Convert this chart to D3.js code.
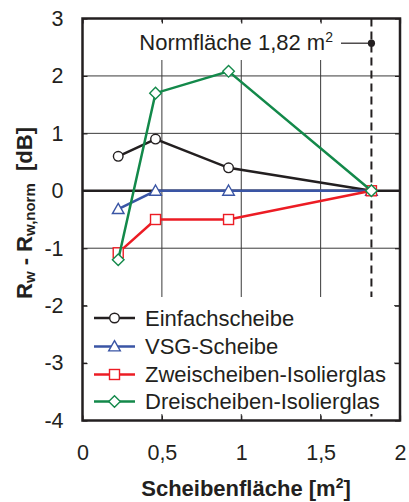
<!DOCTYPE html>
<html>
<head>
<meta charset="utf-8">
<script src="https://cdn.jsdelivr.net/npm/d3@7"></script>
<style>
  body { margin: 0; background: #fff; }
  text { font-family: "Liberation Sans", Arial, sans-serif; fill: #231f20; white-space: pre; }
</style>
</head>
<body>
<div id="chart"></div>
<script>
// Scheibenfläche in m2
const areas = [0.225, 0.46, 0.92, 1.82];
// Rw - Rw,norm in dB
const einfach = [0.6, 0.9, 0.4, 0];
const vsg = [-0.32, 0, 0, 0];
const zwei = [-1.08, -0.5, -0.5, 0];
const drei = [-1.2, 1.7, 2.08, 0];
const seriesNames = ["Einfachscheibe", "VSG-Scheibe", "Zweischeiben-Isolierglas", "Dreischeiben-Isolierglas"];
const xTicks = [0, 0.5, 1, 1.5, 2];
const yTicks = [-4, -3, -2, -1, 0, 1, 2, 3];
const normArea = 1.82;
const normLabelY = 2.57;

const svg = d3.select("#chart").append("svg").attr("width", 409).attr("height", 502);

const x = d3.scaleLinear().domain([0, 2]).range([82.5, 400]);
const y = d3.scaleLinear().domain([-4, 3]).range([420.5, 18.5]);

const colors = ["#231f20", "#3a55a5", "#ec1c24", "#13894a"];
const shapes = [
    g => g.append("circle").attr("r", 4.8),
    g => g.append("path").attr("d", "M0,-5.8L5.8,4.4L-5.8,4.4Z"),
    g => g.append("rect").attr("x", -5).attr("y", -5).attr("width", 10).attr("height", 10),
    g => g.append("path").attr("d", "M0,-5.8L5.8,0L0,5.8L-5.8,0Z")
];
const data = [einfach, vsg, zwei, drei];

// grid
svg.append("g").selectAll("line").data([0.5, 1, 1.5]).join("line")
    .attr("x1", d => x(d)).attr("x2", d => x(d))
    .attr("y1", y(3)).attr("y2", y(-4))
    .attr("stroke", "#3a3a3a").attr("stroke-width", 1);
svg.append("g").selectAll("line").data([-3, -2, -1, 1, 2]).join("line")
    .attr("x1", x(0)).attr("x2", x(2))
    .attr("y1", d => y(d)).attr("y2", d => y(d))
    .attr("stroke", "#3a3a3a").attr("stroke-width", 1);

// Normfläche dashed line
svg.append("line")
    .attr("x1", x(normArea)).attr("x2", x(normArea))
    .attr("y1", y(3)).attr("y2", y(-4))
    .attr("stroke", "#231f20").attr("stroke-width", 2)
    .attr("stroke-dasharray", "8,5");

// white boxes behind label and legend
svg.append("rect").attr("x", 135).attr("y", 22).attr("width", 202).attr("height", 38).attr("fill", "#fff");
svg.append("rect").attr("x", 87).attr("y", 297).attr("width", 307).attr("height", 117).attr("fill", "#fff");

// zero line
svg.append("line")
    .attr("x1", x(0)).attr("x2", x(2))
    .attr("y1", y(0)).attr("y2", y(0))
    .attr("stroke", "#231f20").attr("stroke-width", 2.5);

// label
const lab = svg.append("text").attr("x", 333).attr("y", 50).attr("text-anchor", "end").style("font-size", "22px");
lab.append("tspan").text("Normfläche 1,82 m");
lab.append("tspan").attr("dy", -8).style("font-size", "14px").text("2");
svg.append("line")
    .attr("x1", 341).attr("x2", x(normArea))
    .attr("y1", y(normLabelY)).attr("y2", y(normLabelY))
    .attr("stroke", "#231f20").attr("stroke-width", 1.2);
svg.append("circle")
    .attr("cx", x(normArea)).attr("cy", y(normLabelY)).attr("r", 3.6)
    .attr("fill", "#231f20");

// series
const line = d3.line().x((d, i) => x(areas[i])).y(d => y(d));
data.forEach((vals, k) => {
    svg.append("path")
        .attr("d", line(vals))
        .attr("fill", "none")
        .attr("stroke", colors[k])
        .attr("stroke-width", 2.5);
    vals.forEach((v, i) => {
        const g = svg.append("g").attr("transform", `translate(${x(areas[i])},${y(v)})`);
        shapes[k](g).attr("fill", "#fff").attr("stroke", colors[k]).attr("stroke-width", 1.4);
    });
});

// legend
const legRows = [318, 346.5, 374.5, 401.5];
seriesNames.forEach((name, k) => {
    const ly = legRows[k];
    svg.append("line").attr("x1", 94).attr("x2", 135).attr("y1", ly).attr("y2", ly)
        .attr("stroke", colors[k]).attr("stroke-width", 2.5);
    const g = svg.append("g").attr("transform", `translate(114.5,${ly})`);
    shapes[k](g).attr("fill", "#fff").attr("stroke", colors[k]).attr("stroke-width", 1.4);
    svg.append("text").attr("x", 145).attr("y", ly + 7.5).style("font-size", "22px").text(name);
});

// frame
svg.append("rect")
    .attr("x", x(0)).attr("y", y(3))
    .attr("width", x(2) - x(0)).attr("height", y(-4) - y(3))
    .attr("fill", "none").attr("stroke", "#231f20").attr("stroke-width", 2.5);

// axes with inner ticks
const fmt = d => String(d).replace(".", ",");
svg.append("g").attr("transform", `translate(0,${y(-4)})`)
    .call(d3.axisBottom(x).tickValues(xTicks).tickSize(-5).tickPadding(24).tickFormat(fmt))
    .call(g => g.select(".domain").remove());
svg.append("g").attr("transform", `translate(0,${y(3)})`)
    .call(d3.axisTop(x).tickValues(xTicks).tickSize(-5).tickFormat(""))
    .call(g => g.select(".domain").remove());
svg.append("g").attr("transform", `translate(${x(0)},0)`)
    .call(d3.axisLeft(y).tickValues(yTicks).tickSize(-5).tickPadding(19).tickFormat(d => String(d)))
    .call(g => g.select(".domain").remove());
svg.append("g").attr("transform", `translate(${x(2)},0)`)
    .call(d3.axisRight(y).tickValues(yTicks).tickSize(-5).tickFormat(""))
    .call(g => g.select(".domain").remove());
svg.selectAll(".tick line").attr("stroke", "#231f20").attr("stroke-width", 1.2);
svg.selectAll(".tick text").style("font-size", "21.5px").attr("fill", "#231f20")
    .style("font-family", "'Liberation Sans', Arial, sans-serif");

// axis titles
const xt = svg.append("text").attr("x", 246).attr("y", 496).attr("text-anchor", "middle")
    .style("font-size", "22px").style("font-weight", "bold");
xt.append("tspan").text("Scheibenfläche [m");
xt.append("tspan").attr("dy", -8).style("font-size", "14px").text("2");
xt.append("tspan").attr("dy", 8).text("]");

const yt = svg.append("text").attr("transform", "translate(32,213) rotate(-90)")
    .attr("text-anchor", "middle").style("font-size", "22px").style("font-weight", "bold");
yt.append("tspan").text("R");
yt.append("tspan").attr("dy", 3).style("font-size", "15px").text("w");
yt.append("tspan").attr("dy", -3).text(" - R");
yt.append("tspan").attr("dy", 3).style("font-size", "15px").text("w,norm");
yt.append("tspan").attr("dy", -3).text("  [dB]");
</script>
</body>
</html>
